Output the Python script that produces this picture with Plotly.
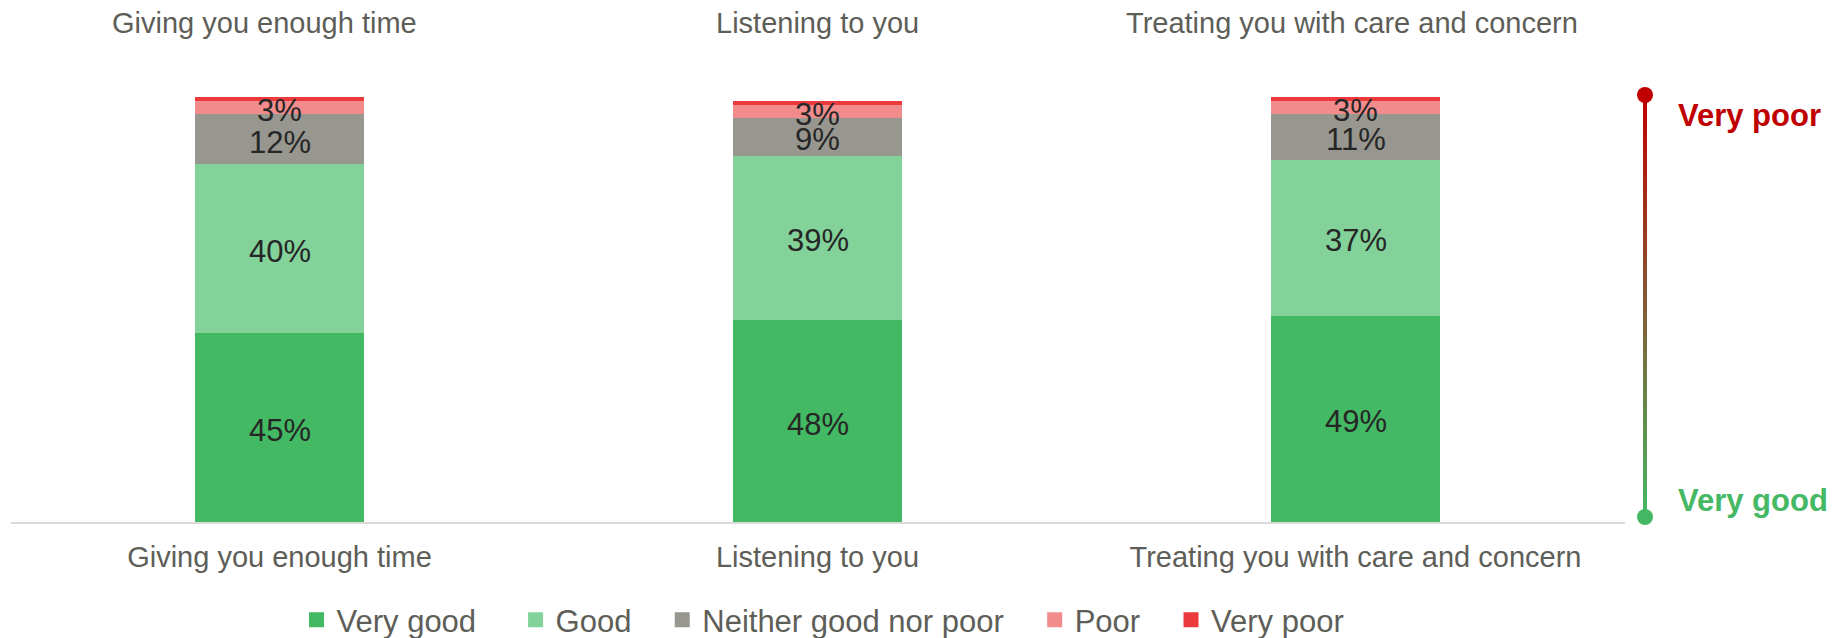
import numpy as np
import plotly.graph_objects as go

# Survey items and response shares (%)
categories = ["Giving you enough time", "Listening to you", "Treating you with care and concern"]
very_good = [45, 48, 49]
good = [40, 39, 37]
neither = [12, 9, 11]
poor = [3, 3, 3]
very_poor = [1, 1, 1]

series = [
    ("Very good", very_good, "#43B964"),
    ("Good", good, "#83D29A"),
    ("Neither good nor poor", neither, "#97968F"),
    ("Poor", poor, "#F28B8C"),
    ("Very poor", very_poor, "#EC393C"),
]
# extra spacing after each legend entry
legend_pad = [4, 3, 3, 3, 0]

FONT = "Liberation Sans, Arial, sans-serif"
TEXT_GREY = "#5E5E58"
W, H = 1846, 638


def px_x(p):
    return p / W


def px_y(p):
    return (H - p) / H


fig = go.Figure()

# Stacked bars
for name, vals, col in series:
    fig.add_trace(go.Bar(
        x=categories, y=vals, name=name, marker=dict(color=col, line=dict(width=0)),
        width=0.314, hoverinfo="skip", showlegend=False,
    ))

# Legend entries with square swatches
for (name, vals, col), pad in zip(series, legend_pad):
    fig.add_trace(go.Scatter(
        x=[None], y=[None], mode="markers", name=name + "\u00a0" * pad,
        marker=dict(symbol="square", size=15, color=col),
    ))

annotations = []

# Value labels at the middle of each segment (small "Very poor" shares are not labelled)
base = np.zeros(len(categories))
for name, vals, col in series:
    v = np.array(vals, dtype=float)
    if name != "Very poor":
        for cat, b, val in zip(categories, base, v):
            annotations.append(dict(
                x=cat, xref="x", y=b + val / 2, yref="y", yanchor="middle",
                text=f"{int(val)}%", showarrow=False, yshift=-3,
                font=dict(family=FONT, size=31, color="#262626"),
            ))
    base += v

# Gradient scale bar on the right (green = very good, red = very poor)
n = 200
grad = np.linspace(0, 1, n)
fig.add_trace(go.Heatmap(
    z=grad.reshape(-1, 1), x=[0], y=grad,
    colorscale=[[0, "#45B864"], [1, "#C00000"]],
    showscale=False, xaxis="x2", yaxis="y2", hoverinfo="skip",
))
fig.add_trace(go.Scatter(
    x=[0, 0], y=[0, 1], mode="markers",
    marker=dict(size=16, color=["#45B864", "#C00000"]),
    xaxis="x2", yaxis="y2", showlegend=False, hoverinfo="skip", cliponaxis=False,
))

# Item titles above the bars
for cat, shift in zip(categories, [-15, 0, -4]):
    annotations.append(dict(
        x=cat, xref="x", y=px_y(23), yref="paper", yanchor="middle",
        text=cat, showarrow=False, xshift=shift,
        font=dict(family=FONT, size=29, color=TEXT_GREY),
    ))
annotations.append(dict(
    x=px_x(1676), xref="paper", xanchor="left", y=px_y(116), yref="paper", yanchor="middle",
    text="<b>Very poor</b>", showarrow=False,
    font=dict(family=FONT, size=31, color="#C00000"),
))
annotations.append(dict(
    x=px_x(1676), xref="paper", xanchor="left", y=px_y(500), yref="paper", yanchor="middle",
    text="<b>Very good</b>", showarrow=False,
    font=dict(family=FONT, size=31, color="#45B864"),
))

fig.update_layout(
    width=W, height=H,
    margin=dict(l=0, r=0, t=0, b=0, autoexpand=False),
    paper_bgcolor="white", plot_bgcolor="white",
    barmode="stack",
    font=dict(family=FONT, color=TEXT_GREY),
    xaxis=dict(
        domain=[px_x(10.5), px_x(1624.5)], showgrid=False, zeroline=False,
        showline=True, linecolor="#D9D9D9", linewidth=2, ticks="",
        tickfont=dict(family=FONT, size=29, color=TEXT_GREY), automargin=False,
        ticklabelstandoff=8,
    ),
    yaxis=dict(
        domain=[px_y(522), px_y(97)], range=[0, 101], visible=False,
    ),
    xaxis2=dict(domain=[px_x(1643), px_x(1647)], range=[-0.5, 0.5], visible=False, anchor="y2"),
    yaxis2=dict(domain=[px_y(517), px_y(95)], range=[0, 1], visible=False, anchor="x2"),
    legend=dict(
        orientation="h", x=px_x(823), xanchor="center", y=px_y(620), yanchor="middle",
        font=dict(family=FONT, size=31, color=TEXT_GREY), traceorder="normal",
        bgcolor="rgba(0,0,0,0)", itemsizing="trace",
    ),
    annotations=annotations,
    showlegend=True,
)

fig.write_html("out.html")
